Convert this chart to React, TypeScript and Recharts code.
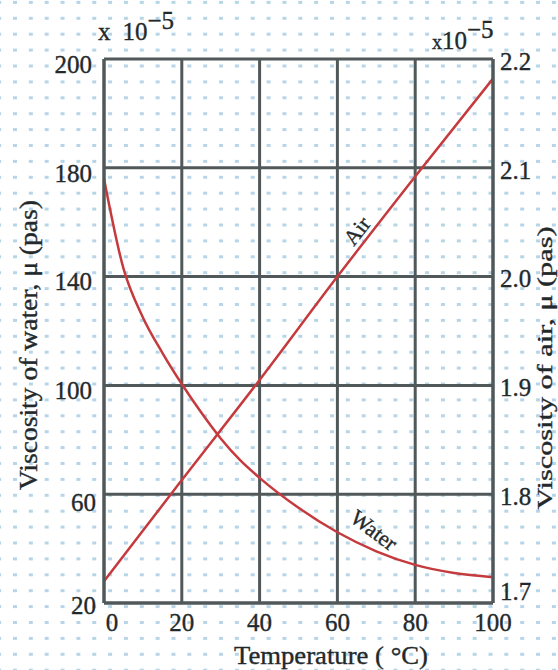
import React from 'react';
import { LineChart, Line, XAxis, YAxis, CartesianGrid, ReferenceDot } from 'recharts';

// Temperature axis (°C)
const temperatureTicks = [0, 20, 40, 60, 80, 100];

// Water viscosity (×10^-5 Pa·s)
const waterTemps = [0, 5, 10, 15, 20, 25, 30, 35, 40, 50, 60, 70, 80, 90, 100];
const waterValues = [176, 143, 125, 112, 100.5, 90, 80.5, 72.5, 66, 55, 46, 39, 34, 31, 29.5];

// Air viscosity (×10^-5 Pa·s)
const airTemps = [0, 20, 40, 60, 80, 100];
const airValues = [1.72, 1.813, 1.905, 2.0, 2.092, 2.182];

// Tick values and printed labels
const waterTicks = [20, 60, 100, 140, 180, 220];
const waterTickLabels = ['20', '60', '100', '140', '180', '200'];
const airTicks = [1.7, 1.8, 1.9, 2.0, 2.1, 2.2];
const airTickLabels = ['1.7', '1.8', '1.9', '2.0', '2.1', '2.2'];

const waterData = waterTemps.map((t, i) => ({ t, water: waterValues[i] }));
const airData = airTemps.map((t, i) => ({ t, air: airValues[i] }));

const FONT = '"Liberation Serif", "DejaVu Serif", serif';
const TXT = '#23292b';
const GRID = '#50585a';
const RED = '#c53a3d';
const FS = 25;
const heavy = { stroke: TXT, strokeWidth: 0.35 };

const XTick = (p: any) => {
  const v = p.payload.value;
  return (
    <text x={p.x + (v === 0 ? 8 : 0)} y={p.y} dy="0.71em" textAnchor="middle" fontFamily={FONT} fontSize={FS} fill={TXT} {...heavy}>
      {String(v)}
    </text>
  );
};

const WaterTick = (p: any) => {
  const v = p.payload.value;
  const i = waterTicks.indexOf(v);
  const off = v === 20 ? 2 : v === 60 ? 8 : 5;
  return (
    <text x={p.x + (v <= 60 ? 4 : 0)} y={p.y + off} dy="0.355em" textAnchor="end" fontFamily={FONT} fontSize={FS} fill={TXT} {...heavy}>
      {waterTickLabels[i]}
    </text>
  );
};

const AirTick = (p: any) => {
  const v = p.payload.value;
  const i = airTicks.findIndex((a) => Math.abs(a - v) < 1e-6);
  const off = Math.abs(v - 1.7) < 1e-6 ? -12 : 2;
  return (
    <text x={p.x} y={p.y + off} dy="0.355em" textAnchor="start" fontFamily={FONT} fontSize={FS} fill={TXT} {...heavy}>
      {airTickLabels[i]}
    </text>
  );
};

const WaterAxisLabel = () => (
  <g>
    <text x={98} y={40} fontFamily={FONT} fontSize={FS} fill={TXT} {...heavy}>
      <tspan>x</tspan>
      <tspan dx={12}>10</tspan>
      <tspan dy={-11}>−5</tspan>
    </text>
    <text
      x={28}
      y={345}
      transform="rotate(-90 28 345)"
      textAnchor="middle"
      dominantBaseline="central"
      fontFamily={FONT}
      fontSize={25}
      textLength={290}
      lengthAdjust="spacingAndGlyphs"
      fill={TXT}
      {...heavy}
    >
      Viscosity of water, μ (pas)
    </text>
  </g>
);

const AirAxisLabel = () => (
  <g>
    <text x={432} y={49} fontFamily={FONT} fontSize={FS} fill={TXT} {...heavy}>
      <tspan fontSize={20}>x</tspan>
      <tspan>10</tspan>
      <tspan dy={-11}>−5</tspan>
    </text>
    <text
      x={544}
      y={368}
      transform="rotate(-90 544 368)"
      textAnchor="middle"
      dominantBaseline="central"
      fontFamily={FONT}
      fontSize={22}
      textLength={283}
      lengthAdjust="spacingAndGlyphs"
      fill={TXT}
      {...heavy}
    >
      Viscosity of air, μ (pas)
    </text>
  </g>
);

const XAxisLabel = () => (
  <text
    x={331}
    y={664}
    textAnchor="middle"
    fontFamily={FONT}
    fontSize={25}
    textLength={194}
    lengthAdjust="spacingAndGlyphs"
    fill={TXT}
    {...heavy}
  >
    Temperature ( °C)
  </text>
);

const rotatedText = (label: string, angle: number) => (p: any) => (
  <text
    x={p.cx}
    y={p.cy}
    transform={`rotate(${angle} ${p.cx} ${p.cy})`}
    textAnchor="middle"
    dominantBaseline="central"
    fontFamily={FONT}
    fontSize={22}
    fill={TXT}
    {...heavy}
  >
    {label}
  </text>
);

export default function App() {
  return (
    <div style={{ position: 'absolute', left: 0, top: 0, width: 558, height: 670, background: '#fff', overflow: 'hidden' }}>
      <svg width={558} height={670} style={{ position: 'absolute', left: 0, top: 0 }}>
        <defs>
          <pattern id="dots" x={13} y={16.8} width={15.85} height={15.9} patternUnits="userSpaceOnUse">
            <rect width={4} height={3} fill="#b7d5e7" />
          </pattern>
        </defs>
        <rect width={558} height={670} fill="url(#dots)" />
      </svg>
      <div style={{ position: 'absolute', left: 0, top: 0 }}>
        <LineChart width={558} height={670} margin={{ top: 59, right: 0, bottom: 0, left: 0 }}>
          <CartesianGrid yAxisId="water" stroke={GRID} strokeWidth={3} />
          <XAxis
            dataKey="t"
            type="number"
            domain={[0, 100]}
            ticks={temperatureTicks}
            height={67}
            tickSize={0}
            tickMargin={10}
            tick={<XTick />}
            axisLine={{ stroke: GRID, strokeWidth: 3 }}
            allowDuplicatedCategory={false}
            label={<XAxisLabel />}
          />
          <YAxis
            yAxisId="water"
            orientation="left"
            type="number"
            domain={[20, 220]}
            ticks={waterTicks}
            width={104}
            tickSize={0}
            tickMargin={12}
            tick={<WaterTick />}
            axisLine={{ stroke: GRID, strokeWidth: 3 }}
            label={<WaterAxisLabel />}
          />
          <YAxis
            yAxisId="air"
            orientation="right"
            type="number"
            domain={[1.7, 2.2]}
            ticks={airTicks}
            width={65}
            tickSize={0}
            tickMargin={7}
            tick={<AirTick />}
            axisLine={{ stroke: GRID, strokeWidth: 3 }}
            label={<AirAxisLabel />}
          />
          <Line
            yAxisId="water"
            data={waterData}
            dataKey="water"
            type="monotone"
            stroke={RED}
            strokeWidth={2.5}
            dot={false}
            isAnimationActive={false}
          />
          <Line
            yAxisId="air"
            data={airData}
            dataKey="air"
            type="monotone"
            stroke={RED}
            strokeWidth={2.5}
            dot={false}
            isAnimationActive={false}
          />
          <ReferenceDot yAxisId="air" x={65} y={2.042} r={0} shape={rotatedText('Air', -52)} />
          <ReferenceDot yAxisId="water" x={69.4} y={46.8} r={0} shape={rotatedText('Water', 37)} />
        </LineChart>
      </div>
    </div>
  );
}
